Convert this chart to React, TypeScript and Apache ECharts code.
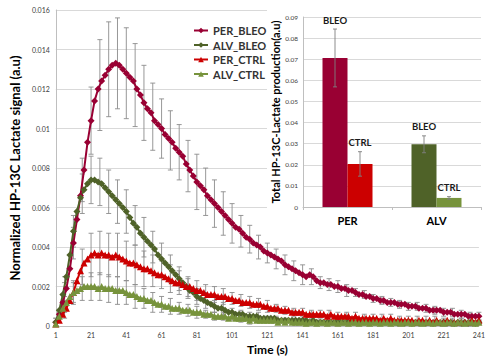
import React, { useEffect, useRef } from "react";
import * as echarts from "echarts";

// ---------- main chart data ----------
// x-axis categories: seconds 1..241
const xCategories: string[] = Array.from({ length: 241 }, (_, i) => String(i + 1));
// sample times for the curves (odd seconds)
const sampleTimes: number[] = Array.from({ length: 121 }, (_, i) => 1 + 2 * i);
// times carrying error bars (every 5 s)
const errTimes: number[] = Array.from({ length: 49 }, (_, i) => 1 + 5 * i);

const perBleo = [
  0.0002, 0.0006, 0.0012, 0.0019, 0.0029, 0.0042, 0.0054, 0.0066, 0.0079, 0.0093,
  0.0104, 0.0114, 0.0120, 0.0124, 0.0127, 0.0130, 0.0132, 0.0133, 0.0132, 0.0130,
  0.0128, 0.0126, 0.0124, 0.0120, 0.0117, 0.0113, 0.0110, 0.0108, 0.0104, 0.0102,
  0.0100, 0.0097, 0.0095, 0.0093, 0.0090, 0.0088, 0.0086, 0.0082, 0.0079, 0.0076,
  0.0073, 0.0071, 0.0069, 0.0066, 0.0064, 0.0062, 0.0060, 0.0058, 0.0056, 0.0054,
  0.0052, 0.0050, 0.0049, 0.0047, 0.0045, 0.0044, 0.0042, 0.0041, 0.0040, 0.0038,
  0.0037, 0.0036, 0.0035, 0.0034, 0.0033, 0.0031, 0.0030, 0.0029, 0.0028, 0.0027,
  0.0026, 0.0025, 0.0026, 0.0025, 0.0023, 0.0022, 0.0022, 0.0021, 0.0021, 0.0020,
  0.0020, 0.0019, 0.0019, 0.0018, 0.0018, 0.0017, 0.0016, 0.0016, 0.0015, 0.0015,
  0.0014, 0.0014, 0.0013, 0.0013, 0.0012, 0.0012, 0.0012, 0.0011, 0.0011, 0.0011,
  0.0010, 0.0010, 0.0010, 0.0009, 0.0009, 0.0009, 0.0008, 0.0008, 0.0008, 0.0008,
  0.0007, 0.0007, 0.0007, 0.0006, 0.0006, 0.0006, 0.0006, 0.0005, 0.0005, 0.0005,
  0.0005,
];
const alvBleo = [
  0.0002, 0.0008, 0.0016, 0.0025, 0.0036, 0.0048, 0.0058, 0.0065, 0.0069, 0.0072,
  0.0074, 0.0074, 0.0073, 0.0072, 0.0070, 0.0068, 0.0066, 0.0064, 0.0062, 0.0060,
  0.0058, 0.0055, 0.0052, 0.0050, 0.0047, 0.0045, 0.0043, 0.0041, 0.0039, 0.0036,
  0.0034, 0.0032, 0.0030, 0.0028, 0.0026, 0.0024, 0.0022, 0.0020, 0.0018, 0.0017,
  0.0015, 0.0014, 0.0013, 0.0012, 0.0011, 0.0010, 0.0009, 0.0009, 0.0008, 0.0007,
  0.0007, 0.0006, 0.0006, 0.0006, 0.0005, 0.0005, 0.0005, 0.0005, 0.0004, 0.0004,
  0.0004, 0.0004, 0.0004, 0.0003, 0.0003, 0.0003, 0.0003, 0.0003, 0.0003, 0.0003,
  0.0003, 0.0003, 0.0002, 0.0003, 0.0002, 0.0002, 0.0002, 0.0002, 0.0002, 0.0002,
  0.0002, 0.0002, 0.0002, 0.0002, 0.0002, 0.0002, 0.0002, 0.0002, 0.0002, 0.0002,
  0.0002, 0.0002, 0.0002, 0.0002, 0.0002, 0.0002, 0.0002, 0.00015, 0.0002, 0.00015,
  0.0002, 0.00015, 0.0002, 0.00015, 0.0002, 0.00015, 0.0002, 0.00015, 0.0002, 0.00015,
  0.0002, 0.00015, 0.0002, 0.00015, 0.0002, 0.00015, 0.0002, 0.00015, 0.0002, 0.00015,
  0.0002,
];
const perCtrl = [
  0.0001, 0.0003, 0.0006, 0.0009, 0.0013, 0.0017, 0.0023, 0.0028, 0.0032, 0.0034,
  0.0036, 0.0037, 0.0036, 0.0037, 0.0036, 0.0036, 0.0035, 0.0036, 0.0035, 0.0034,
  0.0033, 0.0032, 0.0032, 0.0031, 0.0030, 0.0029, 0.0029, 0.0028, 0.0027, 0.0026,
  0.0026, 0.0025, 0.0024, 0.0023, 0.0022, 0.0022, 0.0021, 0.0020, 0.0020, 0.0019,
  0.0018, 0.0018, 0.0017, 0.0016, 0.0016, 0.0016, 0.0015, 0.0015, 0.0015, 0.0014,
  0.0014, 0.0013, 0.0013, 0.0012, 0.0012, 0.0012, 0.0011, 0.0011, 0.0011, 0.0010,
  0.0010, 0.0009, 0.0009, 0.0009, 0.0008, 0.0008, 0.0008, 0.0007, 0.0007, 0.0007,
  0.0007, 0.0006, 0.0006, 0.0006, 0.0006, 0.0006, 0.0006, 0.0005, 0.0006, 0.0005,
  0.0005, 0.0005, 0.0005, 0.0005, 0.0004, 0.0005, 0.0004, 0.0004, 0.0004, 0.0004,
  0.0004, 0.0004, 0.0003, 0.0004, 0.0003, 0.0004, 0.0003, 0.0003, 0.0003, 0.0003,
  0.0003, 0.0003, 0.0002, 0.0003, 0.0003, 0.0002, 0.0003, 0.0002, 0.0003, 0.0002,
  0.0002, 0.0003, 0.0002, 0.0002, 0.0002, 0.0002, 0.0002, 0.0002, 0.0003, 0.0002,
  0.0003,
];
const alvCtrl = [
  0.0001, 0.0005, 0.0009, 0.0012, 0.0015, 0.0017, 0.0018, 0.0019, 0.0020, 0.0020,
  0.0020, 0.0020, 0.0019, 0.0020, 0.0019, 0.0019, 0.0019, 0.0018, 0.0018, 0.0018,
  0.0017, 0.0016, 0.0016, 0.0015, 0.0014, 0.0014, 0.0013, 0.0013, 0.0012, 0.0011,
  0.0011, 0.0010, 0.0010, 0.0009, 0.0009, 0.0009, 0.0008, 0.0008, 0.0008, 0.0007,
  0.0007, 0.0007, 0.0006, 0.0006, 0.0006, 0.0005, 0.0005, 0.0005, 0.0005, 0.0004,
  0.0005, 0.0004, 0.0004, 0.0004, 0.0004, 0.0003, 0.0004, 0.0003, 0.0003, 0.0003,
  0.0003, 0.0003, 0.0003, 0.0002, 0.0003, 0.0002, 0.0003, 0.0002, 0.0002, 0.0002,
  0.0002, 0.00015, 0.0002, 0.0002, 0.00015, 0.0002, 0.0002, 0.00015, 0.0002, 0.0002,
  0.00015, 0.0002, 0.0002, 0.00015, 0.0002, 0.0002, 0.00015, 0.0002, 0.0002, 0.00015,
  0.0002, 0.0002, 0.00015, 0.0002, 0.0002, 0.00015, 0.0002, 0.0002, 0.00015, 0.0002,
  0.0002, 0.00015, 0.0002, 0.0002, 0.00015, 0.0002, 0.0002, 0.00015, 0.0002, 0.0002,
  0.00015, 0.0002, 0.0002, 0.00015, 0.0002, 0.0002, 0.00015, 0.0002, 0.0002, 0.00015,
  0.0002,
];

// error bars: centre and half-width at errTimes
const perBleoErrMid = [
  0.0002, 0.0016, 0.0042, 0.0074, 0.0104, 0.0122, 0.0130, 0.0133, 0.0128, 0.0122,
  0.0113, 0.0106, 0.0100, 0.0094, 0.0088, 0.0081, 0.0073, 0.0068, 0.0062, 0.0057,
  0.0052, 0.0048, 0.0044, 0.0040, 0.0037, 0.0034, 0.0031, 0.0028, 0.0026, 0.0025,
  0.0022, 0.0021, 0.0020, 0.0018, 0.0017, 0.0016, 0.0014, 0.0013, 0.0012, 0.0011,
  0.0010, 0.0010, 0.0009, 0.0008, 0.0007, 0.0007, 0.0006, 0.0005, 0.0005,
];
const perBleoErr = [
  0.0002, 0.0006, 0.0008, 0.0011, 0.0017, 0.0023, 0.0024, 0.0023, 0.0023, 0.0021,
  0.0019, 0.0017, 0.0015, 0.0015, 0.0014, 0.0013, 0.0014, 0.0012, 0.0012, 0.0011,
  0.0010, 0.0008, 0.0007, 0.0006, 0.0005, 0.0005, 0.0005, 0.0005, 0.0005, 0.0004,
  0.0003, 0.0003, 0.0003, 0.0003, 0.0002, 0.0002, 0.0002, 0.0002, 0.0002, 0.0002,
  0.0002, 0.0002, 0.0002, 0.0002, 0.0002, 0.0002, 0.0002, 0.0002, 0.0002,
];
const alvBleoErrMid = [
  0.0002, 0.0020, 0.0048, 0.0067, 0.0074, 0.0073, 0.0068, 0.0063, 0.0058, 0.0051,
  0.0045, 0.0040, 0.0034, 0.0029, 0.0024, 0.0019, 0.0015, 0.0013, 0.0010, 0.0009,
  0.0007, 0.0006, 0.0005, 0.0005, 0.0004, 0.0004, 0.0003, 0.0003, 0.0003, 0.0002,
  0.0002, 0.0002, 0.0002, 0.0002, 0.0002, 0.0002, 0.0002, 0.0002, 0.0002, 0.0002,
  0.0002, 0.0002, 0.0002, 0.0002, 0.0002, 0.0002, 0.0002, 0.0002, 0.0002,
];
const alvBleoErr = [
  0.0002, 0.0005, 0.0008, 0.0010, 0.0012, 0.0012, 0.0011, 0.0011, 0.0011, 0.0010,
  0.0010, 0.0008, 0.0008, 0.0007, 0.0006, 0.0005, 0.0004, 0.0004, 0.0003, 0.0003,
  0.0002, 0.0002, 0.0002, 0.0002, 0.0001, 0.0001, 0.0001, 0.0001, 0.0001, 0.0001,
  0.0001, 0.0001, 0.0001, 0.0001, 0.0001, 0.0001, 0.0001, 0.0001, 0.0001, 0.0001,
  0.0001, 0.0001, 0.0001, 0.0001, 0.0001, 0.0001, 0.0001, 0.0001, 0.0001,
];
const perCtrlErrMid = [
  0.0001, 0.0007, 0.0017, 0.0030, 0.0036, 0.0037, 0.0036, 0.0036, 0.0033, 0.0031,
  0.0029, 0.0028, 0.0026, 0.0024, 0.0022, 0.0020, 0.0018, 0.0017, 0.0016, 0.0015,
  0.0014, 0.0013, 0.0012, 0.0011, 0.0010, 0.0009, 0.0008, 0.0007, 0.0007, 0.0006,
  0.0006, 0.0006, 0.0005, 0.0005, 0.0005, 0.0004, 0.0004, 0.0004, 0.0004, 0.0003,
  0.0003, 0.0003, 0.0003, 0.0003, 0.0002, 0.0002, 0.0002, 0.0002, 0.0003,
];
const perCtrlErr = [
  0.0001, 0.0003, 0.0006, 0.0009, 0.0011, 0.0011, 0.0011, 0.0011, 0.0010, 0.0010,
  0.0009, 0.0008, 0.0007, 0.0007, 0.0006, 0.0005, 0.0005, 0.0004, 0.0004, 0.0004,
  0.0003, 0.0003, 0.0003, 0.0003, 0.0003, 0.0002, 0.0002, 0.0002, 0.0002, 0.0002,
  0.0002, 0.0002, 0.0002, 0.0002, 0.0002, 0.0002, 0.0002, 0.0002, 0.0002, 0.0002,
  0.0002, 0.0002, 0.0002, 0.0002, 0.0002, 0.0002, 0.0002, 0.0002, 0.0002,
];
const alvCtrlErrMid = [
  0.0001, 0.0010, 0.0017, 0.0019, 0.0020, 0.0020, 0.0019, 0.0018, 0.0017, 0.0015,
  0.0014, 0.0012, 0.0011, 0.0010, 0.0009, 0.0008, 0.0007, 0.0006, 0.0005, 0.0005,
  0.0005, 0.0004, 0.0003, 0.0003, 0.0003, 0.0003, 0.0002, 0.0002, 0.0002, 0.0002,
  0.0002, 0.0002, 0.0002, 0.0002, 0.0002, 0.0002, 0.0002, 0.0002, 0.0002, 0.0002,
  0.0002, 0.0002, 0.0002, 0.0002, 0.0002, 0.0002, 0.0002, 0.0002, 0.0002,
];
const alvCtrlErr = [
  0.0001, 0.0003, 0.0005, 0.0006, 0.0007, 0.0007, 0.0007, 0.0007, 0.0006, 0.0006,
  0.0005, 0.0005, 0.0004, 0.0004, 0.0003, 0.0003, 0.0003, 0.0002, 0.0002, 0.0002,
  0.0002, 0.0002, 0.0002, 0.0001, 0.0001, 0.0001, 0.0001, 0.0001, 0.0001, 0.0001,
  0.0001, 0.0001, 0.0001, 0.0001, 0.0001, 0.0001, 0.0001, 0.0001, 0.0001, 0.0001,
  0.0001, 0.0001, 0.0001, 0.0001, 0.0001, 0.0001, 0.0001, 0.0001, 0.0001,
];

// ---------- inset bar chart data ----------
const insetCategories = ["PER", "ALV"];
const bleoTotals = [0.0706, 0.0297];
const bleoTotalsErr = [0.0137, 0.004];
const ctrlTotals = [0.0204, 0.0043];
const ctrlTotalsErr = [0.0058, 0.0006];

const FONT = 'Lato, "Noto Sans", sans-serif';
const COL = {
  perBleo: "#990033",
  alvBleo: "#4f6228",
  perCtrl: "#cc0000",
  alvCtrl: "#77933c",
};
const INSET_BAR_W = 25;

export default function App() {
  const ref = useRef<HTMLDivElement>(null);

  useEffect(() => {
    document.body.style.margin = "0";
    if (!ref.current) return;
    const chart = echarts.init(ref.current, undefined, { renderer: "svg" });

    const lineData = (vals: number[]) => sampleTimes.map((t, i) => [String(t), vals[i]]);
    const errData = (mid: number[], half: number[]) =>
      errTimes.map((t, i) => [String(t), mid[i], half[i]]);

    const errRender = (params: any, api: any) => {
      const x = api.value(0);
      const m = api.value(1);
      const h = api.value(2);
      const top = api.coord([x, m + h]);
      const bot = api.coord([x, m - h]);
      const cap = 2.5;
      const st = { stroke: "#8c8c8c", lineWidth: 0.9 };
      return {
        type: "group",
        children: [
          { type: "line", shape: { x1: top[0], y1: top[1], x2: bot[0], y2: bot[1] }, style: st },
          { type: "line", shape: { x1: top[0] - cap, y1: top[1], x2: top[0] + cap, y2: top[1] }, style: st },
          { type: "line", shape: { x1: bot[0] - cap, y1: bot[1], x2: bot[0] + cap, y2: bot[1] }, style: st },
        ],
      };
    };

    const errSeries = (name: string, mid: number[], half: number[]) => ({
      type: "custom",
      name,
      xAxisIndex: 0,
      yAxisIndex: 0,
      z: 1,
      silent: true,
      encode: { x: 0, y: 1 },
      renderItem: errRender,
      data: errData(mid, half),
    });

    const lineSeries = (name: string, vals: number[], color: string, symbol: string) => ({
      type: "line",
      name,
      xAxisIndex: 0,
      yAxisIndex: 0,
      z: 3,
      symbol,
      symbolSize: 7,
      showSymbol: true,
      showAllSymbol: true,
      lineStyle: { color, width: 2 },
      itemStyle: { color },
      data: lineData(vals),
    });

    // inset error bars + labels
    const insetErrData: any[] = [];
    const insetLabels: string[] = [];
    insetCategories.forEach((_, i) => {
      insetErrData.push([i, bleoTotals[i], bleoTotalsErr[i], -1]);
      insetLabels.push("BLEO");
      insetErrData.push([i, ctrlTotals[i], ctrlTotalsErr[i], 1]);
      insetLabels.push("CTRL");
    });

    const insetErrRender = (params: any, api: any) => {
      const x = api.value(0);
      const v = api.value(1);
      const e = api.value(2);
      const side = api.value(3);
      const off = (side * INSET_BAR_W) / 2;
      const top = api.coord([x, v + e]);
      const bot = api.coord([x, v - e]);
      const cx = top[0] + off;
      const cap = 2;
      const st = { stroke: "#7f7f7f", lineWidth: 0.9 };
      return {
        type: "group",
        children: [
          { type: "line", shape: { x1: cx, y1: top[1], x2: cx, y2: bot[1] }, style: st },
          { type: "line", shape: { x1: cx - cap, y1: top[1], x2: cx + cap, y2: top[1] }, style: st },
          { type: "line", shape: { x1: cx - cap, y1: bot[1], x2: cx + cap, y2: bot[1] }, style: st },
          {
            type: "text",
            x: cx,
            y: top[1] - 4,
            style: {
              text: insetLabels[params.dataIndex],
              align: "center",
              verticalAlign: "bottom",
              fill: "#1a1a1a",
              fontSize: 9.5,
              fontWeight: "bold",
              fontFamily: FONT,
            },
          },
        ],
      };
    };

    const option: any = {
      animation: false,
      backgroundColor: "#ffffff",
      textStyle: { fontFamily: FONT },
      graphic: [
        {
          type: "rect",
          z: 10,
          silent: true,
          shape: { x: 267, y: 0, width: 221, height: 235 },
          style: { fill: "#ffffff" },
        },
      ],
      legend: {
        data: ["PER_BLEO", "ALV_BLEO", "PER_CTRL", "ALV_CTRL"],
        orient: "vertical",
        left: 188,
        top: 20,
        itemGap: 3.5,
        itemWidth: 14,
        itemHeight: 7,
        textStyle: { fontFamily: FONT, fontSize: 11, fontWeight: "bold", color: "#333" },
      },
      grid: [
        { left: 54, right: 9, top: 10, bottom: 30 },
        { left: 303, right: 7, top: 17, bottom: 153, z: 12 },
      ],
      xAxis: [
        {
          gridIndex: 0,
          type: "category",
          data: xCategories,
          boundaryGap: false,
          name: "Time (s)",
          nameLocation: "middle",
          nameGap: 16,
          nameTextStyle: { fontFamily: FONT, fontSize: 12, fontWeight: "bold", color: "#000" },
          axisLine: { lineStyle: { color: "#bfbfbf" } },
          axisTick: { show: false },
          axisLabel: { interval: 19, fontSize: 7, color: "#404040", margin: 5, fontFamily: FONT },
          splitLine: { show: false },
        },
        {
          gridIndex: 1,
          type: "category",
          data: insetCategories,
          z: 12,
          axisLine: { lineStyle: { color: "#bfbfbf" } },
          axisTick: { show: true, length: 3, lineStyle: { color: "#bfbfbf" } },
          axisLabel: { fontSize: 11, fontWeight: "bold", color: "#000", margin: 8, fontFamily: FONT },
        },
      ],
      yAxis: [
        {
          gridIndex: 0,
          type: "value",
          min: 0,
          max: 0.016,
          interval: 0.002,
          name: "Normalized HP-13C Lactate signal (a.u)",
          nameLocation: "middle",
          nameRotate: 90,
          nameGap: 22,
          nameTextStyle: { fontFamily: FONT, fontSize: 13, fontWeight: "bold", color: "#000" },
          axisLine: { show: true, lineStyle: { color: "#bfbfbf" } },
          axisTick: { show: false },
          axisLabel: { fontSize: 7, color: "#404040", margin: 6, fontFamily: FONT },
          splitLine: { lineStyle: { color: "#d9d9d9" } },
        },
        {
          gridIndex: 1,
          type: "value",
          min: 0,
          max: 0.09,
          interval: 0.01,
          z: 12,
          name: "Total HP-13C-Lactate production(a.u)",
          nameLocation: "middle",
          nameRotate: 90,
          nameGap: 18,
          nameTextStyle: { fontFamily: FONT, fontSize: 11, fontWeight: "bold", color: "#000" },
          axisLine: { show: true, lineStyle: { color: "#bfbfbf" } },
          axisTick: { show: false },
          axisLabel: { fontSize: 6.5, color: "#404040", margin: 5, fontFamily: FONT },
          splitLine: { lineStyle: { color: "#d9d9d9" } },
        },
      ],
      series: [
        errSeries("PER_BLEO err", perBleoErrMid, perBleoErr),
        errSeries("ALV_BLEO err", alvBleoErrMid, alvBleoErr),
        errSeries("PER_CTRL err", perCtrlErrMid, perCtrlErr),
        errSeries("ALV_CTRL err", alvCtrlErrMid, alvCtrlErr),
        lineSeries("PER_BLEO", perBleo, COL.perBleo, "diamond"),
        lineSeries("ALV_BLEO", alvBleo, COL.alvBleo, "diamond"),
        lineSeries("PER_CTRL", perCtrl, COL.perCtrl, "triangle"),
        lineSeries("ALV_CTRL", alvCtrl, COL.alvCtrl, "triangle"),
        {
          type: "bar",
          name: "BLEO",
          xAxisIndex: 1,
          yAxisIndex: 1,
          z: 12,
          barWidth: INSET_BAR_W,
          barGap: "0%",
          data: bleoTotals.map((v, i) => ({
            value: v,
            itemStyle: { color: i === 0 ? COL.perBleo : COL.alvBleo },
          })),
        },
        {
          type: "bar",
          name: "CTRL",
          xAxisIndex: 1,
          yAxisIndex: 1,
          z: 12,
          barWidth: INSET_BAR_W,
          barGap: "0%",
          data: ctrlTotals.map((v, i) => ({
            value: v,
            itemStyle: { color: i === 0 ? COL.perCtrl : COL.alvCtrl },
          })),
        },
        {
          type: "custom",
          name: "inset err",
          xAxisIndex: 1,
          yAxisIndex: 1,
          z: 13,
          silent: true,
          encode: { x: 0, y: 1 },
          renderItem: insetErrRender,
          data: insetErrData,
        },
      ],
    };

    chart.setOption(option);
    return () => chart.dispose();
  }, []);

  return <div ref={ref} style={{ width: 488, height: 360 }} />;
}
